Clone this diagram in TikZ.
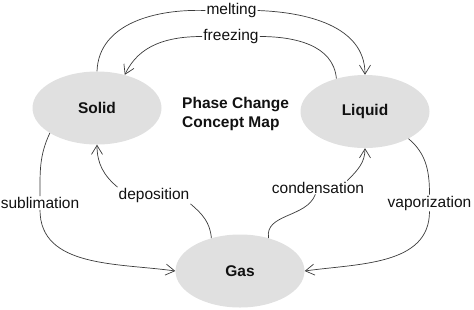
\documentclass[tikz,border=0pt]{standalone}
\usepackage{fontspec}
\setmainfont{Liberation Sans}
\usetikzlibrary{shapes.geometric,arrows.meta}
\definecolor{phasefill}{HTML}{E0E0E0}
\definecolor{linegray}{HTML}{3A3A3A}
\definecolor{textdark}{HTML}{111111}
\begin{document}
\begin{tikzpicture}[x=1pt,y=-1pt,
  phase/.style={ellipse,fill=phasefill,minimum width=129pt,minimum height=73pt,inner sep=0pt,
    font=\fontsize{15.5}{19}\selectfont\bfseries,text=textdark},
  lbl/.style={inner sep=1pt,font=\fontsize{15.5}{19}\selectfont,text=textdark},
  conn/.style={draw=linegray,line width=0.7pt},
  arr/.style={conn,-{Straight Barb[length=9pt,width=11pt,line width=0.7pt]}}]
\useasboundingbox (0,0) rectangle (474,309);
\node[phase] (solid) at (97,108) {Solid};
\node[phase] (liquid) at (365,111.5) {Liquid};
\node[phase] (gas) at (240,271) {Gas};
\node[anchor=west,align=left,inner sep=0pt,font=\fontsize{15.5}{19}\selectfont\bfseries,text=textdark] (title) at (182,114) {Phase Change\\Concept Map};
\node[lbl] (melt) at (231.5,10.5) {melting};
\node[lbl] (freeze) at (231,36.5) {freezing};
\node[lbl] (subl) at (40,203) {sublimation};
\node[lbl] (depo) at (154,195.5) {deposition};
\node[lbl] (cond) at (318,187.5) {condensation};
\node[lbl] (vapor) at (429.5,203) {vaporization};
% melting
\draw[conn] (solid.north) to[out=88,in=178] (melt.west);
\draw[arr] (melt.east) to[out=-2,in=90] (liquid.north);
% freezing
\draw[conn] (liquid.131) to[out=95,in=0] (freeze.east);
\draw[arr] (freeze.west) to[out=180,in=65] (solid.50);
% sublimation
\draw[conn] (solid.208) to[out=-115,in=90] (subl.north);
\draw[arr] (subl.south) to[out=-90,in=172] (gas.west);
% deposition
\draw[conn] (gas.131) to[out=95,in=-40] (depo.south east);
\draw[arr] (depo.north west) to[out=140,in=-90] (solid.south);
% condensation
\draw[conn] (gas.49) to[out=100,in=-110] ([xshift=-50pt]cond.south east);
\draw[arr] ([xshift=-18pt]cond.north east) to[out=45,in=-90] (liquid.south);
% vaporization
\draw[conn] (liquid.-32) to[out=-40,in=90] (vapor.north);
\draw[arr] (vapor.south) to[out=-90,in=8] (gas.east);
\end{tikzpicture}
\end{document}
